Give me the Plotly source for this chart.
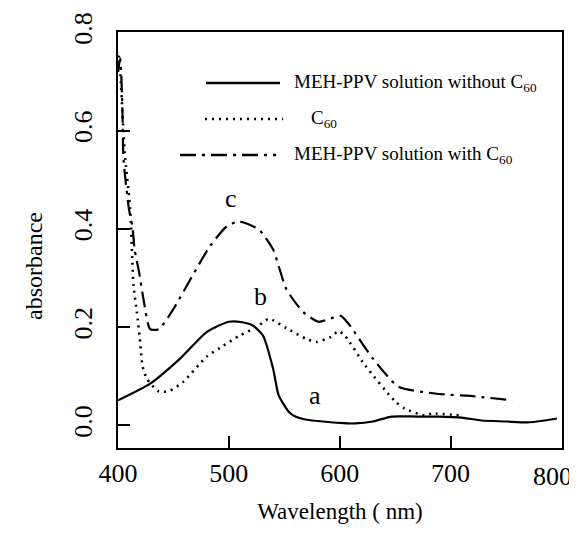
import plotly.graph_objects as go

# Curve a: MEH-PPV solution without C60 (solid)
wl_a = [400, 429, 456, 480, 500, 512, 522, 531, 540, 545, 554, 560, 569, 585, 600, 614, 630, 647, 670, 689, 710, 728, 750, 769, 785, 796]
abs_a = [0.051, 0.085, 0.136, 0.190, 0.211, 0.210, 0.203, 0.182, 0.115, 0.061, 0.028, 0.018, 0.012, 0.008, 0.005, 0.004, 0.008, 0.018, 0.018, 0.018, 0.016, 0.010, 0.008, 0.006, 0.010, 0.014]

# Curve b: C60 (dotted)
wl_b = [400, 401, 406, 411, 413, 414, 417, 420, 422, 426, 437, 447, 459, 480, 495, 509, 525, 536, 552, 570, 579, 592, 599, 605, 623, 650, 659, 677, 683, 710]
abs_b = [0.72, 0.753, 0.557, 0.44, 0.332, 0.284, 0.231, 0.170, 0.122, 0.095, 0.069, 0.071, 0.089, 0.140, 0.162, 0.182, 0.200, 0.217, 0.198, 0.176, 0.170, 0.180, 0.192, 0.182, 0.122, 0.049, 0.034, 0.020, 0.024, 0.020]

# Curve c: MEH-PPV solution with C60 (dash-dot)
wl_c = [400, 402, 404, 405, 410, 413, 415, 419, 423, 429, 437, 450, 468, 483, 498, 509, 527, 540, 545, 552, 567, 581, 592, 601, 608, 630, 653, 686, 722, 756]
abs_c = [0.72, 0.747, 0.642, 0.541, 0.439, 0.405, 0.358, 0.312, 0.257, 0.196, 0.196, 0.237, 0.308, 0.365, 0.405, 0.415, 0.399, 0.358, 0.324, 0.277, 0.231, 0.211, 0.218, 0.223, 0.207, 0.136, 0.079, 0.065, 0.059, 0.051]

legend_names = ["MEH-PPV solution without C<sub>60</sub>", "C<sub>60</sub>", "MEH-PPV solution with C<sub>60</sub>"]
curve_labels = ["a", "b", "c"]
label_x = [578, 529, 502]
label_y = [0.06, 0.262, 0.462]

x_ticks = [400, 500, 600, 700, 800]
x_tick_text = ["400", "500", "600", "700", "800"]
y_ticks = [0.0, 0.2, 0.4, 0.6, 0.8]

FONT = "Liberation Serif, Times New Roman, serif"
BLACK = "#000000"
DASHDOT = "16px,6px,3px,6px"
DOTS = "2px,5px"

fig = go.Figure()
fig.add_trace(go.Scatter(x=wl_a, y=abs_a, mode="lines", line=dict(color=BLACK, width=2.2, shape="spline", smoothing=0.6), showlegend=False))
fig.add_trace(go.Scatter(x=wl_b, y=abs_b, mode="lines", line=dict(color=BLACK, width=2.6, dash=DOTS, shape="spline", smoothing=0.6), showlegend=False))
fig.add_trace(go.Scatter(x=wl_c, y=abs_c, mode="lines", line=dict(color=BLACK, width=2.2, dash=DASHDOT, shape="spline", smoothing=0.6), showlegend=False))

# hand-drawn style legend (paper coordinates)
L, R, T, B = 110, 554, 24, 440
def px(x):
    return (x - L) / (R - L)
def py(y):
    return (B - y) / (B - T)

legend_rows = [
    dict(x0=198, x1=272, y=75, dash="solid", tx=284),
    dict(x0=197, x1=275, y=111, dash=DOTS, tx=301),
    dict(x0=172, x1=268, y=147, dash=DASHDOT, tx=284),
]
for row, name in zip(legend_rows, legend_names):
    fig.add_shape(type="line", xref="paper", yref="paper",
                  x0=px(row["x0"]), x1=px(row["x1"]), y0=py(row["y"]), y1=py(row["y"]),
                  line=dict(color=BLACK, width=2.4, dash=row["dash"]))
    fig.add_annotation(xref="paper", yref="paper", x=px(row["tx"]), y=py(row["y"]),
                       text=name, showarrow=False, xanchor="left", yanchor="middle",
                       font=dict(family=FONT, size=19, color=BLACK))

for t, lx, ly in zip(curve_labels, label_x, label_y):
    fig.add_annotation(x=lx, y=ly, text=t, showarrow=False,
                       font=dict(family=FONT, size=26, color=BLACK))

# y-axis title placed as in the reference
fig.add_annotation(xref="paper", yref="paper", x=px(26), y=py(258), text="absorbance",
                   textangle=-90, showarrow=False, xanchor="center", yanchor="middle",
                   font=dict(family=FONT, size=24, color=BLACK))

# last x tick label: kept right-aligned so it stays inside the picture
fig.add_annotation(xref="paper", yref="paper", x=px(566), y=py(452), text=x_tick_text[-1],
                   showarrow=False, xanchor="right", yanchor="top",
                   font=dict(family=FONT, size=26, color=BLACK))

fig.update_layout(
    template="none",
    width=577, height=533,
    margin=dict(l=L, r=577 - R, t=T, b=533 - B),
    paper_bgcolor="white", plot_bgcolor="white",
    font=dict(family=FONT, color=BLACK),
    showlegend=False,
)
fig.update_xaxes(range=[400, 800.6], tickvals=x_ticks, ticktext=x_tick_text[:-1] + [""],
                 ticks="inside", ticklen=12, tickwidth=2,
                 tickcolor=BLACK, showline=True, linecolor=BLACK, linewidth=2, mirror=True,
                 showgrid=False, zeroline=False, tickfont=dict(size=26, family=FONT, color=BLACK),
                 ticklabelstandoff=1,
                 title=dict(text="Wavelength ( nm)", font=dict(size=23, family=FONT, color=BLACK), standoff=16))
fig.update_yaxes(range=[-0.046, 0.801], tickvals=y_ticks, tickformat=".1f", ticks="inside", ticklen=12,
                 tickwidth=2, tickcolor=BLACK, showline=True, linecolor=BLACK, linewidth=2, mirror=True,
                 showgrid=False, zeroline=False, tickangle=-90, tickfont=dict(size=26, family=FONT, color=BLACK),
                 ticklabelstandoff=14, ticklabeloverflow="allow")

fig.write_html("out.html")
